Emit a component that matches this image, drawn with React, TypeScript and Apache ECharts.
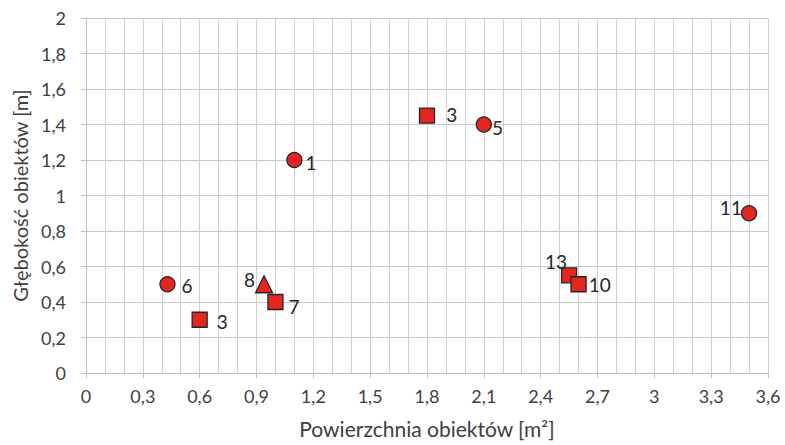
import React, { useEffect, useRef } from "react";
import * as echarts from "echarts";

const pointLabels = ["1", "3", "5", "11", "6", "3", "8", "7", "13", "10"];
const areaValues = [1.1, 1.8, 2.1, 3.5, 0.43, 0.6, 0.94, 1.0, 2.55, 2.6];
const depthValues = [1.2, 1.45, 1.4, 0.9, 0.5, 0.3, 0.5, 0.4, 0.55, 0.5];
const shapes = ["circle", "rect", "circle", "circle", "circle", "rect", "triangle", "rect", "rect", "rect"];

const labelPos = ["right", "right", "right", "left", "right", "right", "left", "right", "inside", "right"];
const labelDist = [3, 11, 0, -1, 6, 9, 0, 5, 0, 2];
const labelOff = [[0, 2], [0, -1], [0, 3], [0, -6], [0, 1], [0, 2], [0, -5], [0, 4], [-13, -14], [0, 0]];

const xAxisTitle = "Powierzchnia obiektów [m²]";
const yAxisTitle = "Głębokość obiektów [m]";

const FONT = "Lato";
const TXT = "#404040";

export default function App() {
  const ref = useRef<HTMLDivElement>(null);
  useEffect(() => {
    const chart = echarts.init(ref.current!, null, { renderer: "svg" });
    const data = areaValues.map((x, i) => ({
      value: [x, depthValues[i]],
      symbol: shapes[i],
      symbolSize: shapes[i] === "rect" ? 15 : shapes[i] === "triangle" ? 17 : 15,
      label: {
        show: true,
        formatter: pointLabels[i],
        position: labelPos[i] as any,
        distance: labelDist[i],
        offset: labelOff[i],
      },
    }));
    const fmt = (v: number) => String(Math.round(v * 10) / 10).replace(".", ",");
    chart.setOption({
      animation: false,
      textStyle: { fontFamily: FONT },
      grid: { left: 86, right: 17, top: 18, bottom: 72 },
      xAxis: {
        type: "value",
        min: 0,
        max: 3.6,
        interval: 0.3,
        name: xAxisTitle,
        nameLocation: "middle",
        nameGap: 45,
        nameTextStyle: { fontSize: 21, color: TXT, fontFamily: FONT },
        axisLine: { show: true, lineStyle: { color: "#bfbfbf", width: 1 } },
        axisTick: { show: true, length: 5, lineStyle: { color: "#bfbfbf" } },
        axisLabel: { formatter: fmt, fontSize: 18, color: TXT, margin: 14, fontFamily: FONT },
        splitLine: { show: true, lineStyle: { color: "#d0d0d0", width: 1 } },
        minorTick: { show: false, splitNumber: 3 },
        minorSplitLine: { show: true, lineStyle: { color: "#d0d0d0", width: 1 } },
      },
      yAxis: {
        type: "value",
        min: 0,
        max: 2,
        interval: 0.2,
        name: yAxisTitle,
        nameLocation: "middle",
        nameGap: 52,
        nameTextStyle: { fontSize: 20, color: TXT, fontFamily: FONT },
        axisLine: { show: true, lineStyle: { color: "#bfbfbf", width: 1 } },
        axisTick: { show: true, length: 5, lineStyle: { color: "#bfbfbf" } },
        axisLabel: { formatter: fmt, fontSize: 18, color: TXT, margin: 20, fontFamily: FONT },
        splitLine: { show: true, lineStyle: { color: "#c8c8c8", width: 1.2 } },
      },
      series: [
        {
          type: "scatter",
          data,
          itemStyle: { color: "#e3261f", borderColor: "#262626", borderWidth: 1.3, opacity: 1 },
          label: { color: "#262626", fontSize: 19, fontFamily: FONT },
          z: 5,
        },
      ],
    });
    return () => chart.dispose();
  }, []);
  return (
    <div
      ref={ref}
      style={{ position: "absolute", left: 0, top: 0, width: 785, height: 445 }}
    />
  );
}
